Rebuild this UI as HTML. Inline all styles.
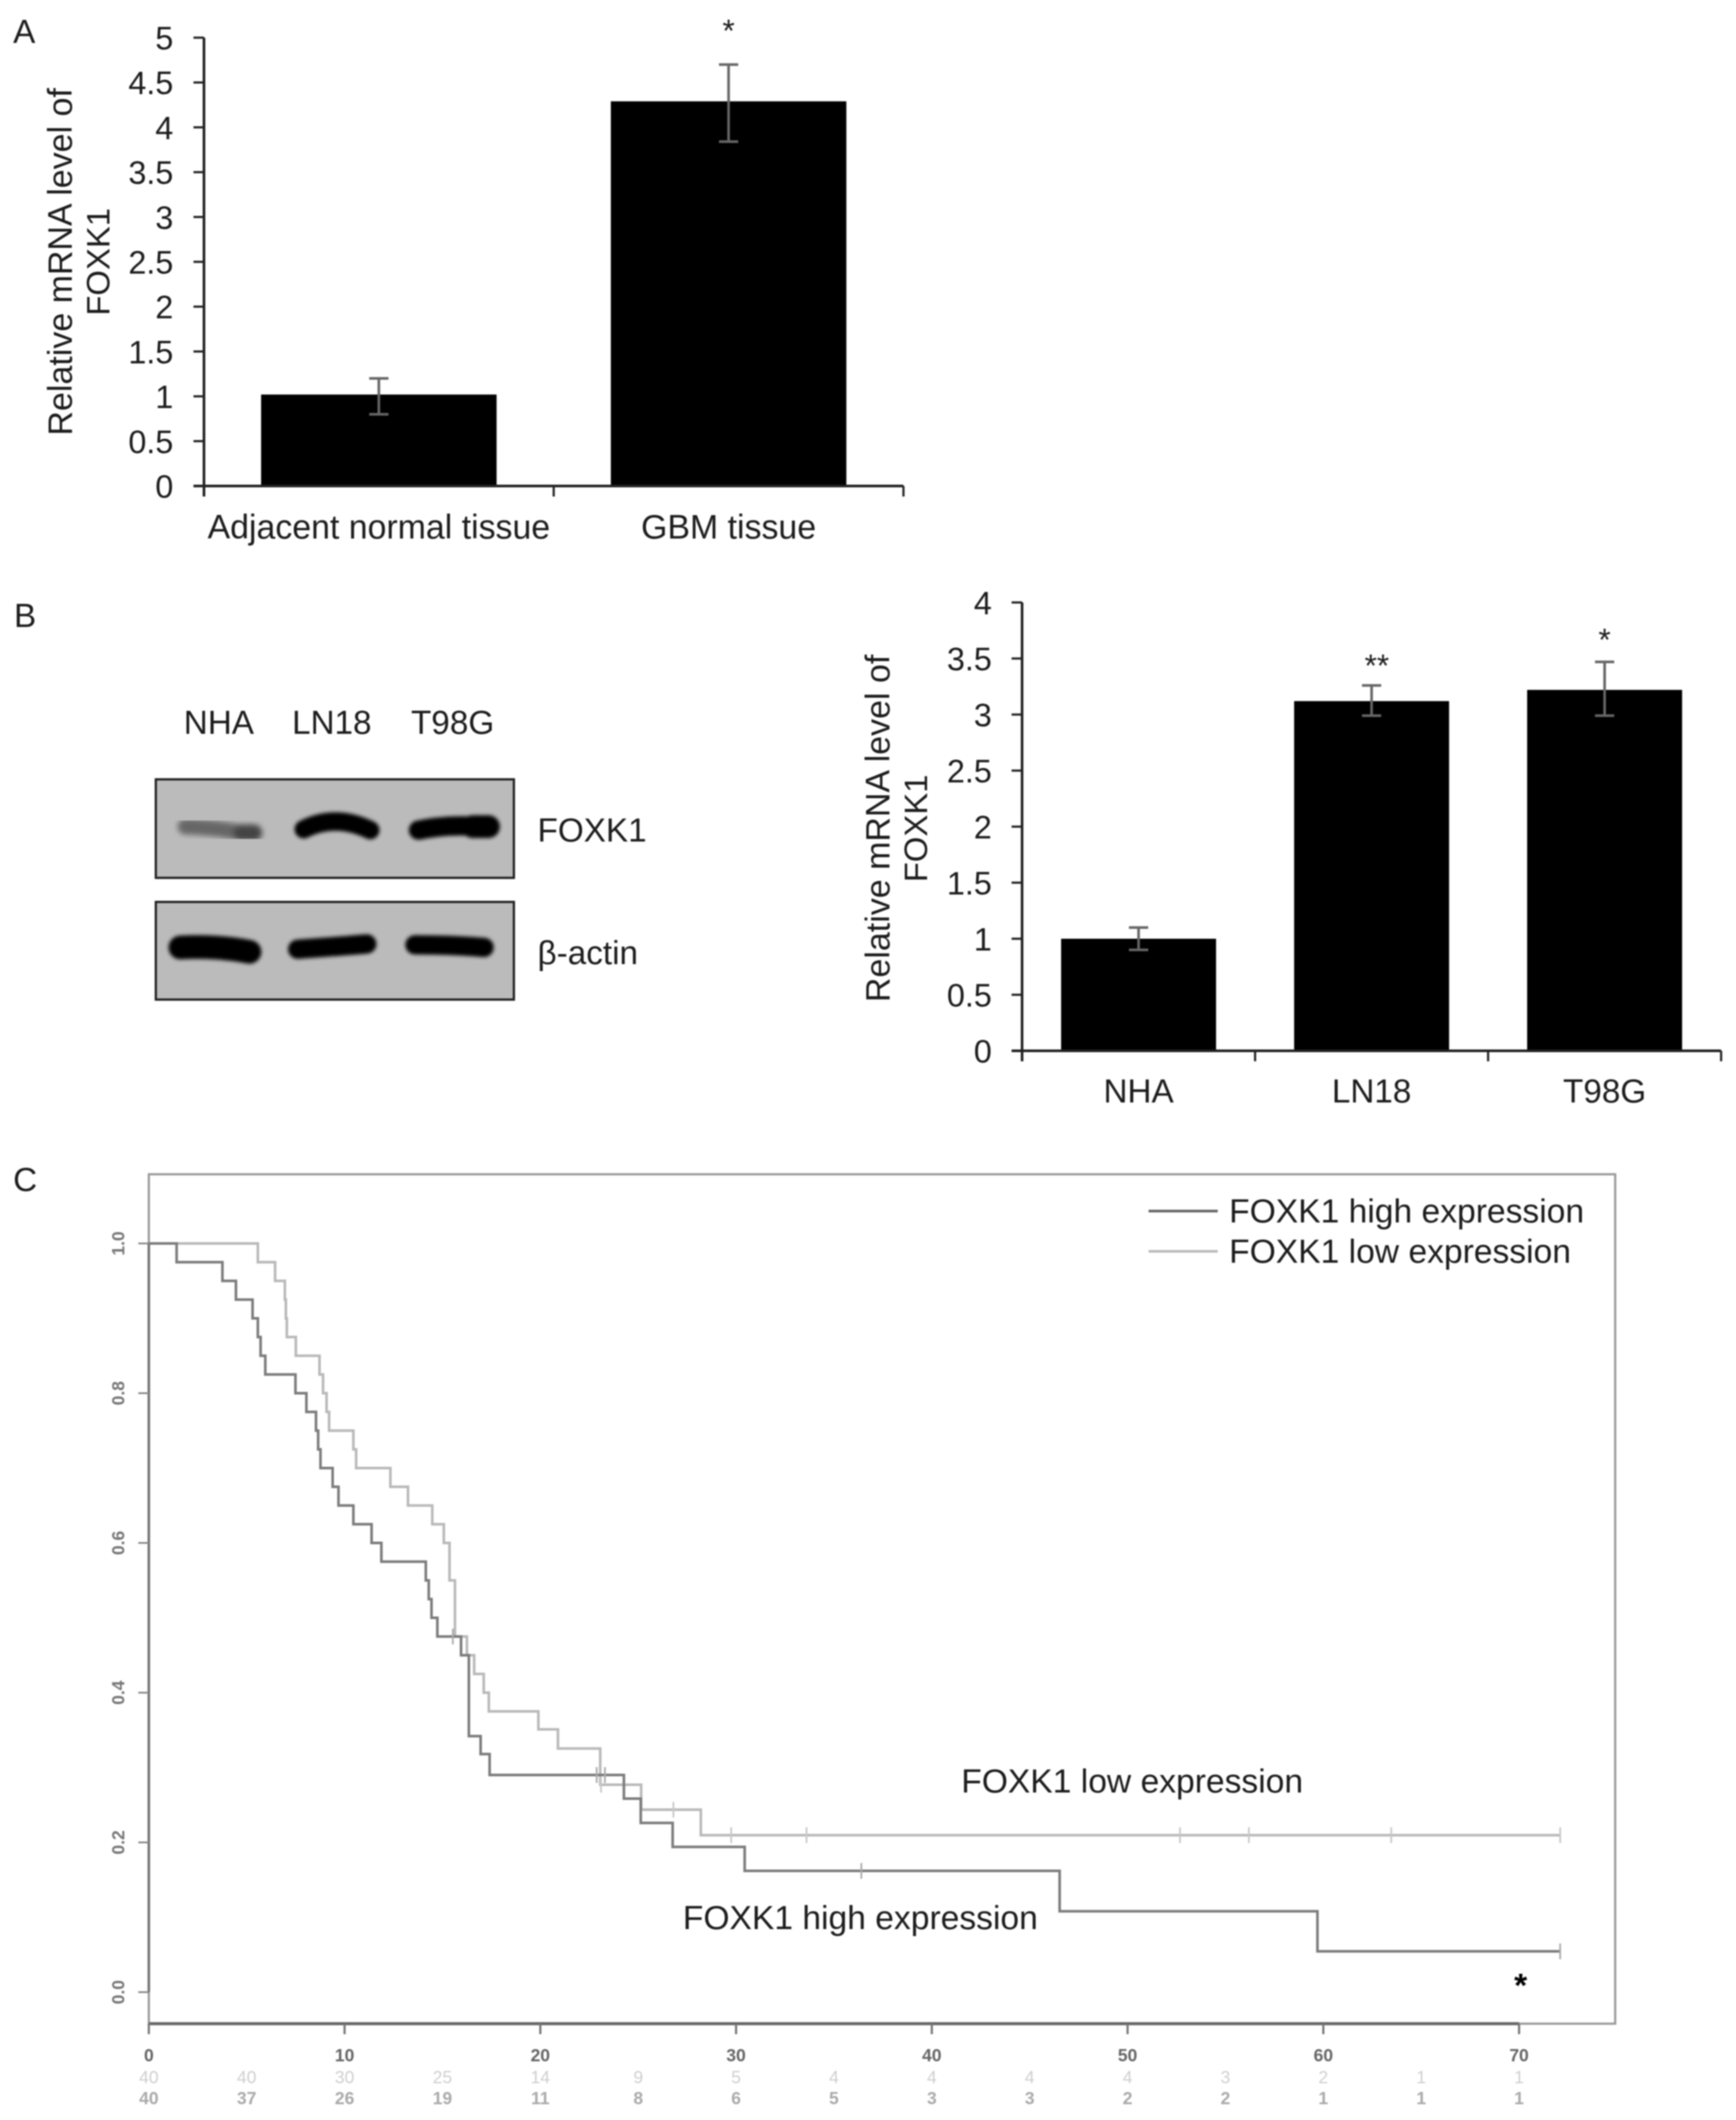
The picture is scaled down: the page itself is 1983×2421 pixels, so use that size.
<!DOCTYPE html>
<html lang="en">
<head>
<meta charset="utf-8">
<title>FOXK1 expression figure</title>
<style>
html,body{margin:0;padding:0;background:#fff;}
svg{display:block;filter:blur(0.8px);}
text{font-family:"Liberation Sans",sans-serif;fill:#1c1c1c;}
</style>
</head>
<body>
<svg id="figure" xmlns="http://www.w3.org/2000/svg" width="1983" height="2421" viewBox="0 0 1983 2421">
  <defs>
    <filter id="band-blur" x="-20%" y="-100%" width="140%" height="300%"><feGaussianBlur stdDeviation="2.2"/></filter>
    <filter id="faint-blur" x="-20%" y="-100%" width="140%" height="300%"><feGaussianBlur stdDeviation="3.2"/></filter>
  </defs>
  <rect x="0" y="0" width="1983" height="2421" fill="#fff"/>

  <text x="15" y="49" font-size="38">A</text>
  <text x="16" y="716" font-size="38">B</text>
  <text x="15" y="1360" font-size="38">C</text>

  <g id="chart-a"></g>

  <g>
    <text x="250" y="838" font-size="38" text-anchor="middle">NHA</text>
    <text x="379" y="838" font-size="38" text-anchor="middle">LN18</text>
    <text x="517" y="838" font-size="38" text-anchor="middle">T98G</text>
    <rect x="178" y="890" width="409" height="112.5" fill="#bbbbbb" stroke="#222" stroke-width="2.6"/>
    <rect x="178" y="1030" width="409" height="111.5" fill="#bbbbbb" stroke="#222" stroke-width="2.6"/>
    <g filter="url(#faint-blur)" fill="none" stroke-linecap="round">
      <path d="M212 944 Q245 945 270 950" stroke="#666" stroke-width="18"/>
      <path d="M276 951 L290 951" stroke="#444" stroke-width="19"/>
    </g>
    <g filter="url(#band-blur)" fill="none" stroke-linecap="round">
      <path d="M347 947 Q383 929 423 948" stroke="#000" stroke-width="21"/>
      <path d="M478 948 Q517 940 558 945" stroke="#000" stroke-width="22"/>
      <path d="M540 944 L558 944" stroke="#000" stroke-width="26"/>
      <path d="M206 1082 Q250 1080 285 1087" stroke="#000" stroke-width="27"/>
      <path d="M340 1084 Q383 1081 419 1078" stroke="#000" stroke-width="22"/>
      <path d="M474 1079 Q517 1079 553 1082" stroke="#000" stroke-width="22"/>
    </g>
    <text x="614" y="961" font-size="38">FOXK1</text>
    <text x="614" y="1101" font-size="38">β-actin</text>
  </g>

  <g id="chart-b"></g>
  <g id="chart-c"></g>
</svg>

<script>
// Panel A data
const tissueCategories = ['Adjacent normal tissue', 'GBM tissue'];
const tissueValues = [1.02, 4.29];
const tissueErrUpper = [1.2, 4.7];
const tissueErrLower = [0.8, 3.84];
const tissueMarks = ['', '*'];
const tissueTicks = [0, 0.5, 1, 1.5, 2, 2.5, 3, 3.5, 4, 4.5, 5];

// Panel B data
const cellCategories = ['NHA', 'LN18', 'T98G'];
const cellValues = [1.0, 3.12, 3.22];
const cellErrUpper = [1.1, 3.26, 3.47];
const cellErrLower = [0.9, 2.99, 2.99];
const cellMarks = ['', '**', '*'];
const cellTicks = [0, 0.5, 1, 1.5, 2, 2.5, 3, 3.5, 4];

// Panel C data
const highTimes = [1.42, 3.76, 4.45, 5.3, 5.57, 5.71, 5.95, 7.49, 8.05, 8.54, 8.65, 8.77, 9.39, 9.69, 10.45, 11.38, 11.88, 14.15, 14.3, 14.44, 14.74, 15.95, 16.35, 16.95, 17.41, 24.27, 25.13, 26.76, 30.44, 46.53, 59.7];
const highSurvival = [0.975, 0.95, 0.925, 0.9, 0.875, 0.85, 0.825, 0.8, 0.775, 0.75, 0.725, 0.7, 0.675, 0.65, 0.625, 0.6, 0.575, 0.55, 0.525, 0.5, 0.475, 0.45, 0.342, 0.318, 0.29, 0.2585, 0.226, 0.194, 0.162, 0.108, 0.0545];
const highCensored = [15.53, 22.88, 23.3, 36.4, 72.1];
const lowTimes = [5.57, 6.45, 6.95, 7.0, 7.05, 7.51, 8.72, 8.9, 9.08, 9.21, 10.45, 10.59, 12.34, 13.24, 14.48, 15.07, 15.36, 15.64, 16.25, 16.62, 17.11, 17.37, 19.9, 20.9, 23.06, 25.15, 28.2];
const lowSurvival = [0.975, 0.95, 0.925, 0.9, 0.875, 0.85, 0.825, 0.8, 0.775, 0.75, 0.725, 0.7, 0.675, 0.65, 0.625, 0.6, 0.55, 0.475, 0.45, 0.425, 0.4, 0.375, 0.351, 0.3255, 0.277, 0.2437, 0.2097];
const lowCensored = [23.1, 26.8, 29.75, 33.6, 52.68, 56.2, 63.47, 72.1];
const followUpEnd = 72.1;
const survivalTicks = [0, 0.2, 0.4, 0.6, 0.8, 1.0];
const timeTicks = [0, 10, 20, 30, 40, 50, 60, 70];
const riskTimes = [0, 5, 10, 15, 20, 25, 30, 35, 40, 45, 50, 55, 60, 65, 70];
const riskLow = [40, 40, 30, 25, 14, 9, 5, 4, 4, 4, 4, 3, 2, 1, 1];
const riskHigh = [40, 37, 26, 19, 11, 8, 6, 5, 3, 3, 2, 2, 1, 1, 1];

const NS = 'http://www.w3.org/2000/svg';
function make(tag, parent, attrs, txt) {
  const el = document.createElementNS(NS, tag);
  for (const k in attrs) el.setAttribute(k, attrs[k]);
  if (txt !== undefined) el.textContent = txt;
  parent.appendChild(el);
  return el;
}

function barChart(group, cfg) {
  const n = cfg.categories.length;
  const yOf = v => cfg.y0 - (v / cfg.maxV) * (cfg.y0 - cfg.yTop);
  const band = (cfg.xRight - cfg.x0) / n;
  const xOf = i => cfg.x0 + band * (i + 0.5);

  cfg.ticks.forEach(t => {
    const tick = make('line', group, {x1: cfg.x0 - 12, x2: cfg.x0, y1: yOf(t), y2: yOf(t), stroke: '#222', 'stroke-width': 2.5});
    
    
    const lab = make('text', group, {x: cfg.labelRight, y: yOf(t) + 13.5, 'font-size': 37, 'text-anchor': 'end'}, String(t));
    
    
  });

  cfg.categories.forEach((c, i) => {
    const bar = make('rect', group, {x: xOf(i) - cfg.barW / 2, y: yOf(cfg.values[i]), width: cfg.barW, height: cfg.y0 - yOf(cfg.values[i]), fill: '#000'});
    
    
    const err = make('path', group, {
      d: 'M' + (xOf(i) - 11) + ' ' + yOf(cfg.upper[i]) + 'H' + (xOf(i) + 11) +
         'M' + xOf(i) + ' ' + yOf(cfg.upper[i]) + 'V' + yOf(cfg.lower[i]) +
         'M' + (xOf(i) - 11) + ' ' + yOf(cfg.lower[i]) + 'H' + (xOf(i) + 11),
      fill: 'none', stroke: '#666', 'stroke-width': 3});
    
    
    const cat = make('text', group, {x: xOf(i), y: cfg.catY, 'font-size': cfg.catFont, 'text-anchor': 'middle'}, c);
    
    
    if (cfg.marks[i]) {
      const mark = make('text', group, {x: xOf(i) + (cfg.marks[i].length > 1 ? 6 : 0), y: yOf(cfg.upper[i]) - cfg.markGaps[i], 'font-size': 36, 'text-anchor': 'middle'}, cfg.marks[i]);
      
      
    }
  });

  const axes = make('path', group, {d: 'M' + cfg.x0 + ' ' + cfg.yTop + 'V' + (cfg.y0 + 12) + 'M' + (cfg.x0 - 12) + ' ' + cfg.y0 + 'H' + cfg.xRight, fill: 'none', stroke: '#222', 'stroke-width': 3});
  
  
  for (let i = 1; i <= n; i++) {
    const xt = make('line', group, {x1: cfg.x0 + band * i, x2: cfg.x0 + band * i, y1: cfg.y0, y2: cfg.y0 + 12, stroke: '#222', 'stroke-width': 2.5});
    
    
  }

  const t1 = make('text', group, {transform: 'translate(' + cfg.titleX1 + ' ' + cfg.titleY + ') rotate(-90)', 'font-size': 38.8, 'text-anchor': 'middle'}, 'Relative mRNA level of');
  
  
  const t2 = make('text', group, {transform: 'translate(' + cfg.titleX2 + ' ' + cfg.titleY + ') rotate(-90)', 'font-size': 37.5, 'text-anchor': 'middle'}, 'FOXK1');
  
  
}

barChart(document.getElementById('chart-a'), {
  categories: tissueCategories, values: tissueValues, upper: tissueErrUpper, lower: tissueErrLower,
  marks: tissueMarks, ticks: tissueTicks, maxV: 5,
  x0: 233, xRight: 1032, y0: 555, yTop: 43, barW: 269, labelRight: 198, catY: 615, catFont: 38.7, markGaps: [0, 26],
  titleX1: 82, titleX2: 125, titleY: 299
});

barChart(document.getElementById('chart-b'), {
  categories: cellCategories, values: cellValues, upper: cellErrUpper, lower: cellErrLower,
  marks: cellMarks, ticks: cellTicks, maxV: 4,
  x0: 1167.5, xRight: 1966, y0: 1200, yTop: 688, barW: 177, labelRight: 1133, catY: 1259, catFont: 38, markGaps: [0, 10, 13],
  titleX1: 1016, titleX2: 1059, titleY: 946
});

// Survival chart
(function () {
  const g = document.getElementById('chart-c');
  const xOf = t => 170 + 22.36 * t;
  const yOf = s => 2275 - 855 * s;

  const box = make('rect', g, {x: 170, y: 1341, width: 1675, height: 970, fill: 'none', stroke: '#999', 'stroke-width': 2.5});
  
  

  const axisY = make('line', g, {x1: 170, x2: 170, y1: yOf(1), y2: yOf(0), stroke: '#777', 'stroke-width': 3});
  
  
  const axisX = make('line', g, {x1: 170, x2: xOf(70), y1: 2311, y2: 2311, stroke: '#666', 'stroke-width': 3.5});
  
  

  survivalTicks.forEach(s => {
    const tick = make('line', g, {x1: 158, x2: 170, y1: yOf(s), y2: yOf(s), stroke: '#888', 'stroke-width': 2});
    
    
    const lab = make('text', g, {transform: 'translate(142 ' + yOf(s) + ') rotate(-90)', 'font-size': 20, 'font-weight': 'bold', 'text-anchor': 'middle', style: 'fill:#777'}, s.toFixed(1));
    
    
  });

  timeTicks.forEach(t => {
    const tick = make('line', g, {x1: xOf(t), x2: xOf(t), y1: 2311, y2: 2323, stroke: '#777', 'stroke-width': 2.5});
    
    
    const lab = make('text', g, {x: xOf(t), y: 2354, 'font-size': 20, 'font-weight': 'bold', 'text-anchor': 'middle', style: 'fill:#666'}, String(t));
    
    
  });

  riskTimes.forEach((t, i) => {
    const lo = make('text', g, {x: xOf(t), y: 2379, 'font-size': 20, 'text-anchor': 'middle', style: 'fill:#cfcfcf'}, String(riskLow[i]));
    
    
    const hi = make('text', g, {x: xOf(t), y: 2403, 'font-size': 20, 'font-weight': 'bold', 'text-anchor': 'middle', style: 'fill:#aaa'}, String(riskHigh[i]));
    
    
  });

  function stepPath(times, surv) {
    let d = 'M' + xOf(0) + ' ' + yOf(1);
    times.forEach((t, i) => { d += 'H' + xOf(t) + 'V' + yOf(surv[i]); });
    return d + 'H' + xOf(followUpEnd);
  }
  function survAt(times, surv, t) {
    let s = 1;
    times.forEach((tt, i) => { if (tt <= t) s = surv[i]; });
    return s;
  }

  const lowLine = make('path', g, {d: stepPath(lowTimes, lowSurvival), fill: 'none', stroke: '#b9b9b9', 'stroke-width': 3});
  
  
  lowCensored.forEach(t => {
    const m = make('line', g, {x1: xOf(t), x2: xOf(t), y1: yOf(survAt(lowTimes, lowSurvival, t)) - 9, y2: yOf(survAt(lowTimes, lowSurvival, t)) + 9, stroke: '#c8c8c8', 'stroke-width': 2});
    
    
  });

  const highLine = make('path', g, {d: stepPath(highTimes, highSurvival), fill: 'none', stroke: '#7c7c7c', 'stroke-width': 3});
  
  
  highCensored.forEach(t => {
    const m = make('line', g, {x1: xOf(t), x2: xOf(t), y1: yOf(survAt(highTimes, highSurvival, t)) - 9, y2: yOf(survAt(highTimes, highSurvival, t)) + 9, stroke: '#aaa', 'stroke-width': 2});
    
    
  });

  const k1 = make('line', g, {x1: 1312, x2: 1391, y1: 1383, y2: 1383, stroke: '#666', 'stroke-width': 3});
  
  
  const k2 = make('line', g, {x1: 1312, x2: 1391, y1: 1429, y2: 1429, stroke: '#b9b9b9', 'stroke-width': 3});
  
  
  const l1 = make('text', g, {x: 1404, y: 1396, 'font-size': 38.4}, 'FOXK1 high expression');
  
  
  const l2 = make('text', g, {x: 1404, y: 1442, 'font-size': 38.4}, 'FOXK1 low expression');
  
  

  const a1 = make('text', g, {x: 1098, y: 2047, 'font-size': 38.4}, 'FOXK1 low expression');
  
  
  const a2 = make('text', g, {x: 780, y: 2203, 'font-size': 38.4}, 'FOXK1 high expression');
  
  
  const star = make('text', g, {x: 1737, y: 2280, 'font-size': 38, 'font-weight': 'bold', 'text-anchor': 'middle', style: 'fill:#000'}, '*');
  
  
})();
</script>
</body>
</html>
